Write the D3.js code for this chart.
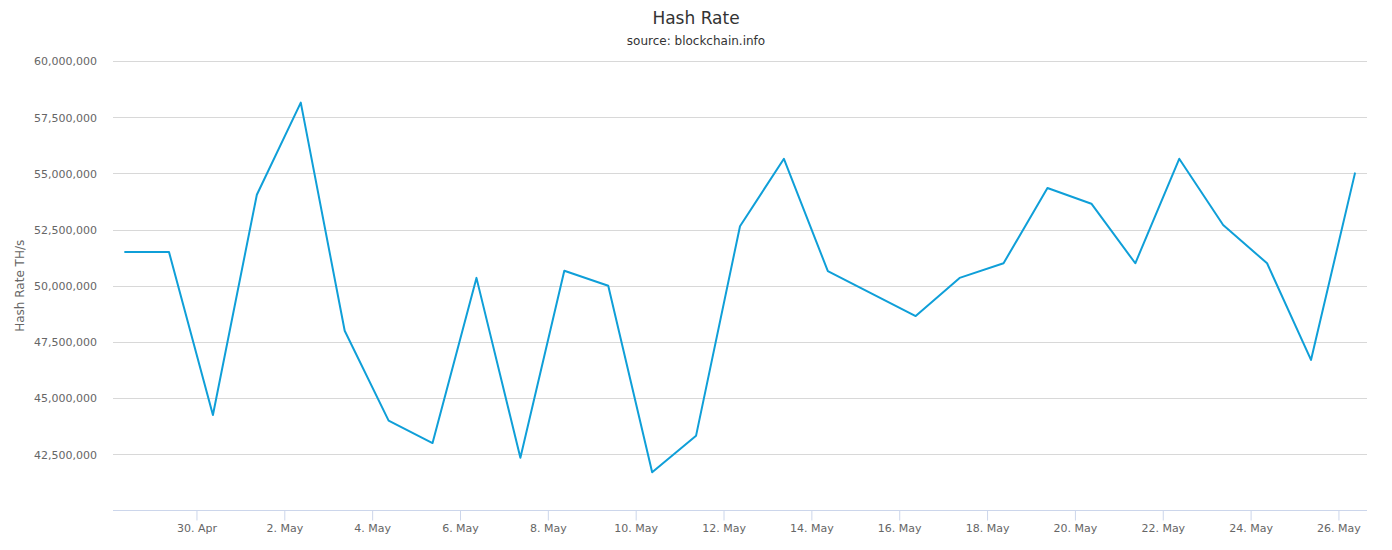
<!DOCTYPE html>
<html>
<head>
<meta charset="utf-8">
<script src="https://cdn.jsdelivr.net/npm/d3@7/dist/d3.min.js"></script>
<style>
  html, body { margin: 0; padding: 0; background: #fff; }
  svg { display: block; font-family: "DejaVu Sans", "Lucida Grande", sans-serif; }
</style>
</head>
<body>
<svg id="chart" width="1392" height="550"></svg>
<script>
// ---- data ----
const dates = [
  "2019-04-28","2019-04-29","2019-04-30","2019-05-01","2019-05-02","2019-05-03",
  "2019-05-04","2019-05-05","2019-05-06","2019-05-07","2019-05-08","2019-05-09",
  "2019-05-10","2019-05-11","2019-05-12","2019-05-13","2019-05-14",
  "2019-05-16","2019-05-17","2019-05-18","2019-05-19","2019-05-20","2019-05-21",
  "2019-05-22","2019-05-23","2019-05-24","2019-05-25","2019-05-26"
];
const hashRate = [
  51500000, 51500000, 44250000, 54050000, 58150000, 48000000,
  44000000, 43000000, 50350000, 42350000, 50670000, 50000000,
  41700000, 43330000, 52650000, 55650000, 50650000,
  48650000, 50350000, 51000000, 54350000, 53650000, 51000000,
  55650000, 52700000, 51000000, 46700000, 55000000
];
const yTicks = [42500000, 45000000, 47500000, 50000000, 52500000, 55000000, 57500000, 60000000];
const xTicks = [
  "2019-04-30","2019-05-02","2019-05-04","2019-05-06","2019-05-08","2019-05-10",
  "2019-05-12","2019-05-14","2019-05-16","2019-05-18","2019-05-20","2019-05-22",
  "2019-05-24","2019-05-26"
];
const titleText = "Hash Rate";
const subtitleText = "source: blockchain.info";
const yAxisTitle = "Hash Rate TH/s";

// ---- layout ----
const plot = { left: 113, right: 1367, top: 61, bottom: 510.5 };
const HOUR = 3600 * 1000;
const pointTime = s => new Date(s + "T09:00:00Z");
const tickTime = s => new Date(s + "T00:00:00Z");
const data = dates.map((d, i) => ({ t: pointTime(d), v: hashRate[i] }));

const t0 = data[0].t.getTime(), t1 = data[data.length - 1].t.getTime();
const pad = 6.6 * HOUR;
const x = d3.scaleUtc().domain([new Date(t0 - pad), new Date(t1 + pad)]).range([plot.left, plot.right]);
const y = d3.scaleLinear().domain([40000000, 60000000]).range([plot.bottom, plot.top]);

const svg = d3.select("#chart");

// title
svg.append("text").attr("x", 696).attr("y", 24).attr("text-anchor", "middle")
  .attr("fill", "#333").attr("font-size", 17).text(titleText);
svg.append("text").attr("x", 696).attr("y", 45).attr("text-anchor", "middle")
  .attr("fill", "#333").attr("font-size", 12).text(subtitleText);

// gridlines
svg.append("g").selectAll("line").data(yTicks).join("line")
  .attr("x1", plot.left).attr("x2", plot.right)
  .attr("y1", d => Math.round(y(d)) + 0.5).attr("y2", d => Math.round(y(d)) + 0.5)
  .attr("stroke", "#d8d8d8").attr("stroke-width", 1);

// y axis labels
const fmt = d3.format(",");
const yAxis = d3.axisLeft(y).tickValues(yTicks).tickSize(0).tickPadding(0).tickFormat(fmt);
const yg = svg.append("g").attr("transform", `translate(${plot.left - 16},0)`).call(yAxis);
yg.select(".domain").remove();
yg.selectAll("text").attr("fill", "#666").attr("font-size", 11)
  .attr("font-family", "DejaVu Sans, sans-serif").attr("dy", "0.35em");

// y axis title
svg.append("text")
  .attr("transform", `translate(24,${(plot.top + plot.bottom) / 2}) rotate(-90)`)
  .attr("text-anchor", "middle").attr("fill", "#666").attr("font-size", 12)
  .text(yAxisTitle);

// x axis
const xAxis = d3.axisBottom(x).tickValues(xTicks.map(tickTime))
  .tickSize(10).tickPadding(4).tickFormat(d3.utcFormat("%-d. %b"));
const xg = svg.append("g").attr("transform", `translate(0,${Math.round(plot.bottom) - 0.5})`).call(xAxis);
xg.select(".domain").attr("stroke", "#ccd6eb").attr("d", `M${plot.left},0H${plot.right}`);
xg.selectAll(".tick line").attr("stroke", "#ccd6eb");
xg.selectAll("text").attr("fill", "#666").attr("font-size", 11)
  .attr("font-family", "DejaVu Sans, sans-serif");

// line
const line = d3.line().x(d => x(d.t)).y(d => y(d.v));
svg.append("path").datum(data)
  .attr("d", line).attr("fill", "none")
  .attr("stroke", "#0f9fd8").attr("stroke-width", 2)
  .attr("stroke-linejoin", "round").attr("stroke-linecap", "round");
</script>
</body>
</html>
